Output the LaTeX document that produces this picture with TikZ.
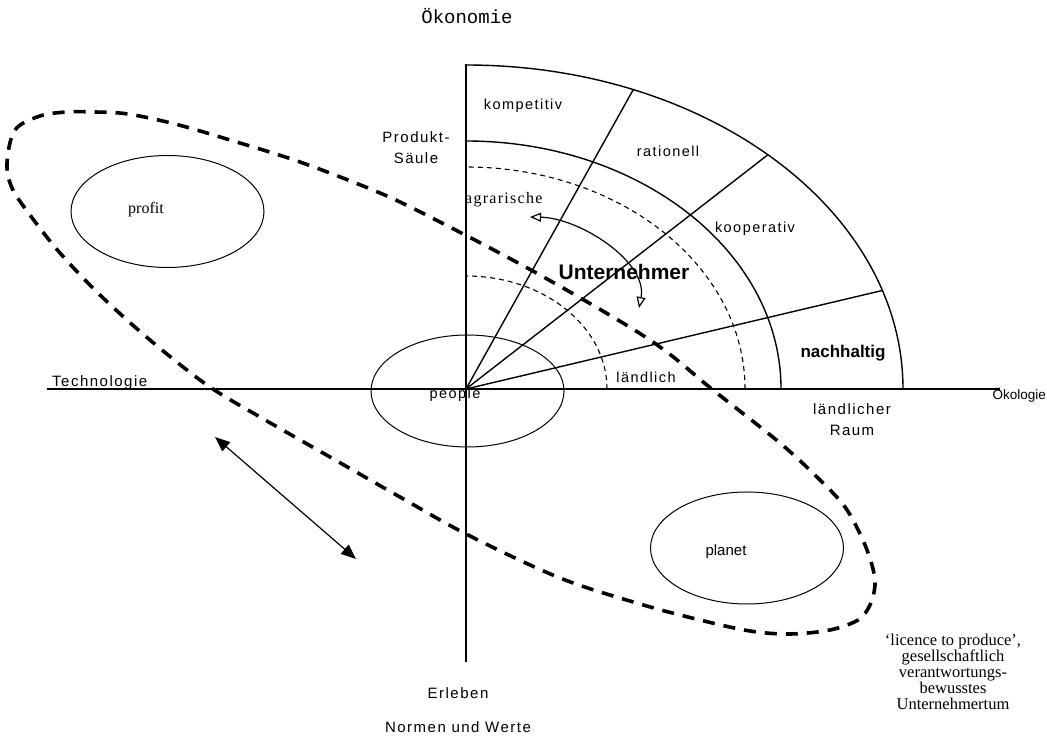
\documentclass[tikz,border=0pt]{standalone}
\usepackage{fontspec}
\setmainfont{Liberation Sans}
\newfontfamily\labf[LetterSpace=10]{Liberation Sans}
\newfontfamily\plainf{Liberation Sans}
\newfontfamily\serf{Liberation Serif}
\newfontfamily\serlab[LetterSpace=8]{Liberation Serif}
\newfontfamily\monof{Liberation Mono}
\usetikzlibrary{arrows.meta,calc,shapes.geometric}
\begin{document}
\begin{tikzpicture}[x=1pt,y=1pt,
  lab/.style={font=\labf\fontsize{14.5}{17}\selectfont, inner sep=0pt},
  axlab/.style={font=\labf\fontsize{15}{21}\selectfont, inner sep=0pt, align=center},
  boldlab/.style={font=\plainf\bfseries\fontsize{17}{20}\selectfont, inner sep=0pt},
  axisline/.style={line width=1.6pt},
  arcline/.style={line width=1.4pt},
  thindash/.style={line width=1.1pt, dash pattern=on 5pt off 4pt},
  loopdash/.style={line width=3.6pt, dash pattern=on 12pt off 9pt},
  oval/.style={draw, ellipse, line width=1pt, minimum width=193pt, minimum height=112pt, inner sep=0pt},
  openarr/.style={line width=1.2pt, {Triangle[open,length=11pt,width=9pt]}-{Triangle[open,length=11pt,width=9pt]}},
  fillarr/.style={line width=1.2pt, {Triangle[length=15pt,width=12pt]}-{Triangle[length=15pt,width=12pt]}}
]
\useasboundingbox (0,0) rectangle (1047,736);

% axes
\coordinate (O) at (466,347);
\coordinate (axL) at (47,347);
\coordinate (axR) at (1000,347);
\coordinate (axT) at (466,672);
\coordinate (axB) at (466,74);
\draw[axisline] (axL) -- (axR);
\draw[axisline] (axB) -- (axT);

% ellipses
\node[oval] (profitE) at (167.5,524.5) {};
\node[oval] (peopleE) at (467.5,345) {};
\node[oval] (planetE) at (747,188) {};

% arcs
\draw[arcline] (O) ++(437,0) arc[start angle=0,end angle=90,x radius=437,y radius=324];
\draw[arcline] (O) ++(315,0) arc[start angle=0,end angle=90,x radius=315,y radius=248];
\draw[thindash] (O) ++(279,0) arc[start angle=0,end angle=90,x radius=279,y radius=222];
\draw[thindash] (O) ++(141,0) arc[start angle=0,end angle=90,x radius=141,y radius=113];

% radial lines
\path (O) ++(67.5:437 and 324) coordinate (r1);
\path (O) ++(46.3:437 and 324) coordinate (r2);
\path (O) ++(17.7:437 and 324) coordinate (r3);
\draw[arcline] (O) -- (r1);
\draw[arcline] (O) -- (r2);
\draw[arcline] (O) -- (r3);

% big dashed loop
\draw[loopdash] plot[smooth cycle, tension=0.55] coordinates {
 (7,573) (15,606) (40,620) (67,624) (95,624) (128,622) (175,612) (230,596)
 (300,574) (380,543) (440,514) (540,461) (650,396) (713,346) (780,293)
 (820,256) (845,229) (862,198) (872,171) (875,151) (870,131) (858,116)
 (830,106) (790,102) (750,105) (700,116) (640,132) (560,158) (468,201)
 (400,239) (330,279) (260,319) (207,351) (150,396) (100,441) (60,483)
 (30,521) (12,548)};

% arrows
\coordinate (ca1) at (530,519);
\coordinate (ca2) at (639,428);
\draw[openarr] (ca1) .. controls (580,518) and (648,474) .. (ca2);
\coordinate (da1) at (215,299);
\coordinate (da2) at (356,177);
\draw[fillarr] (da1) -- (da2);

% labels
\node[font=\monof\fontsize{19}{22}\selectfont, inner sep=0pt] (oek) at (467,720) {Ökonomie};
\node[axlab] (prod) at (416,588) {Produkt-\\Säule};
\node[lab] (komp) at (523,630) {kompetitiv};
\node[lab] (rat) at (668,585) {rationell};
\node[lab] (koop) at (755,507) {kooperativ};
\node[font=\serlab\fontsize{16}{19}\selectfont, inner sep=0pt, anchor=west] (agr) at (465,536) {agrarische};
\node[font=\plainf\bfseries\fontsize{21}{24}\selectfont, inner sep=0pt] (unt) at (624,464) {Unternehmer};
\node[boldlab] (nach) at (843,383) {nachhaltig};
\node[lab] (laend) at (646,359) {ländlich};
\node[axlab] (raum) at (852,316) {ländlicher\\Raum};
\node[axlab, anchor=west] (tech) at (52,353) {Technologie};
\node[lab] (peo) at (455,341) {people};
\node[font=\serf\fontsize{16}{19}\selectfont, inner sep=0pt] (prof) at (146,526) {profit};
\node[font=\plainf\fontsize{15}{18}\selectfont, inner sep=0pt] (plan) at (726,184) {planet};
\node[font=\plainf\fontsize{13.5}{16}\selectfont, inner sep=0pt, anchor=east] (oekol) at (1046,341) {Ökologie};
\node[axlab] (erl) at (458,43) {Erleben};
\node[axlab] (norm) at (458,9) {Normen und Werte};
\node[font=\serf\fontsize{16.5}{16}\selectfont, inner sep=0pt, align=center] (lic) at (953,64)
  {‘licence to produce’,\\gesellschaftlich\\verantwortungs-\\bewusstes\\Unternehmertum};
\end{tikzpicture}
\end{document}
